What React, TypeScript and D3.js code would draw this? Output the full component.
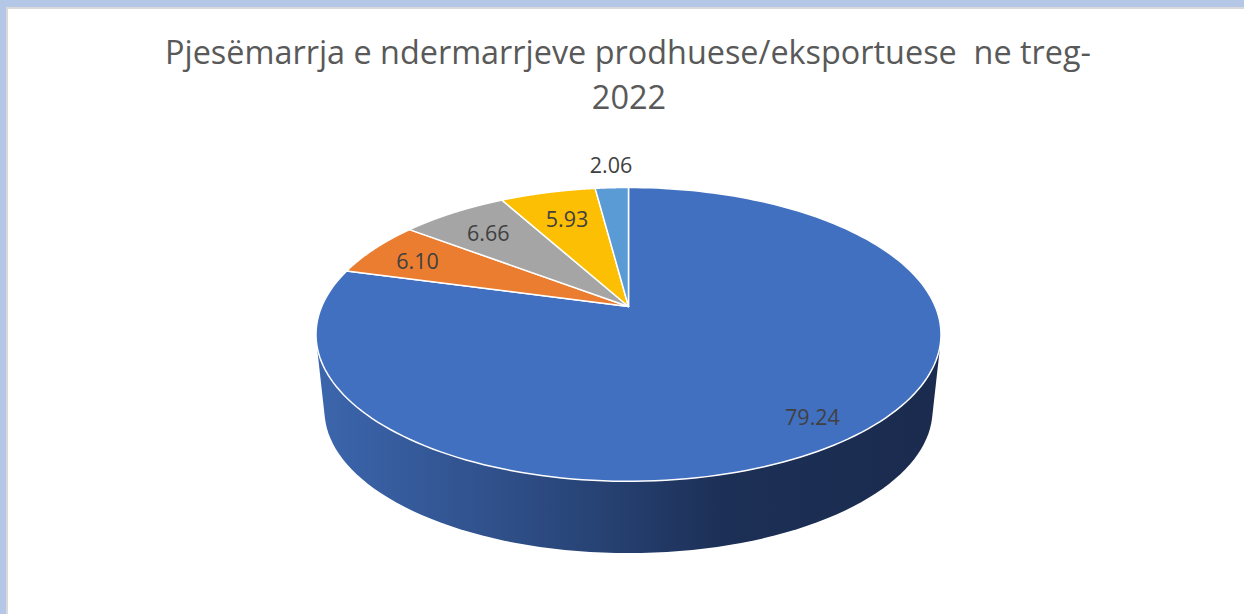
import React from "react";
import * as d3 from "d3";

const titleLines = ["Pjesëmarrja e ndermarrjeve prodhuese/eksportuese  ne treg-", "2022"];
const categories = ["A", "B", "C", "D", "E"];
const values = [79.24, 6.1, 6.66, 5.93, 2.06];
const valueLabels = ["79.24", "6.10", "6.66", "5.93", "2.06"];
const colors = ["#4270c0", "#eb7d30", "#a5a5a5", "#fdbf03", "#5b9bd5"];

const W = 1244;
const H = 614;
const FONT = "'Open Sans', sans-serif";

// perspective projection of a flat disc
const topDisc = { cx: 628.5, cy: 306.5, a: 141.6, b: 306.8, k: 0.19 };
const bottomDisc = { cx: 628.5, cy: 383, a: 137.8, b: 298.5, k: 0.19 };
const labelRadius = [0.86, 0.82, 0.76, 0.73, 1.2];
const labelNudgeX = [0, 0, -3, 0, 2];
const labelNudgeY = [0, 3, 0, 0, -3];

type Disc = typeof topDisc;
const project = (d: Disc, angle: number, r: number): [number, number] => {
  const u = r * Math.sin(angle);
  const v = r * Math.cos(angle);
  const w = 1 + d.k * v;
  return [d.cx + (d.b * u) / w, d.cy - (d.a * v) / w];
};

const sampleArc = (d: Disc, a0: number, a1: number) =>
  d3.range(0, 181).map((i) => project(d, a0 + ((a1 - a0) * i) / 180, 1));

const pie = d3.pie<number>().sort(null).value((v) => v);
const arcs = pie(values);
const line = d3.line();

const hull = d3.polygonHull([
  ...sampleArc(topDisc, 0, 2 * Math.PI),
  ...sampleArc(bottomDisc, 0, 2 * Math.PI),
]) as [number, number][];

const sideStops: [number, string][] = [
  [0, "#3c66ad"],
  [0.34, "#2d4c84"],
  [0.66, "#1c2f55"],
  [1, "#1a2b4e"],
];

export default function App() {
  return (
    <svg
      width={W}
      height={H}
      viewBox={`0 0 ${W} ${H}`}
      style={{ position: "fixed", left: 0, top: 0, display: "block", background: "#fff" }}
    >
      <defs>
        <linearGradient id="side" gradientUnits="userSpaceOnUse" x1={316} x2={941} y1={0} y2={0}>
          {sideStops.map(([o, c]) => (
            <stop key={o} offset={o} stopColor={c} />
          ))}
        </linearGradient>
      </defs>
      <rect x={0} y={0} width={W} height={H} fill="#ffffff" />
      <rect x={6} y={7} width={W - 6} height={H - 7} fill="#d9d9d9" />
      <rect x={8} y={9} width={W - 8} height={H - 9} fill="#ffffff" />
      <rect x={0} y={0} width={W} height={7} fill="#b4c7e7" />
      <rect x={0} y={0} width={6} height={H} fill="#b4c7e7" />

      <text x={628} y={64} textAnchor="middle" fontFamily={FONT} fontSize={32.5} fill="#595959" xmlSpace="preserve" textLength={926} lengthAdjust="spacingAndGlyphs">
        {titleLines[0]}
      </text>
      <text x={629} y={109} textAnchor="middle" fontFamily={FONT} fontSize={32.5} fill="#595959">
        {titleLines[1]}
      </text>

      <path d={line(hull) + "Z"} fill="url(#side)" />

      {arcs.map((s, i) => (
        <path
          key={categories[i]}
          d={
            line([
              [topDisc.cx, topDisc.cy],
              ...sampleArc(topDisc, s.startAngle, s.endAngle),
            ]) + "Z"
          }
          fill={colors[i]}
          stroke="#ffffff"
          strokeWidth={1.5}
          strokeLinejoin="round"
        />
      ))}

      {arcs.map((s, i) => {
        const [x, y] = project(topDisc, (s.startAngle + s.endAngle) / 2, labelRadius[i]);
        return (
          <text key={categories[i]} x={x + labelNudgeX[i]} y={y + labelNudgeY[i]} dy="0.36em" textAnchor="middle" fontFamily={FONT} fontSize={21.5} fill="#404040">
            {valueLabels[i]}
          </text>
        );
      })}
    </svg>
  );
}
